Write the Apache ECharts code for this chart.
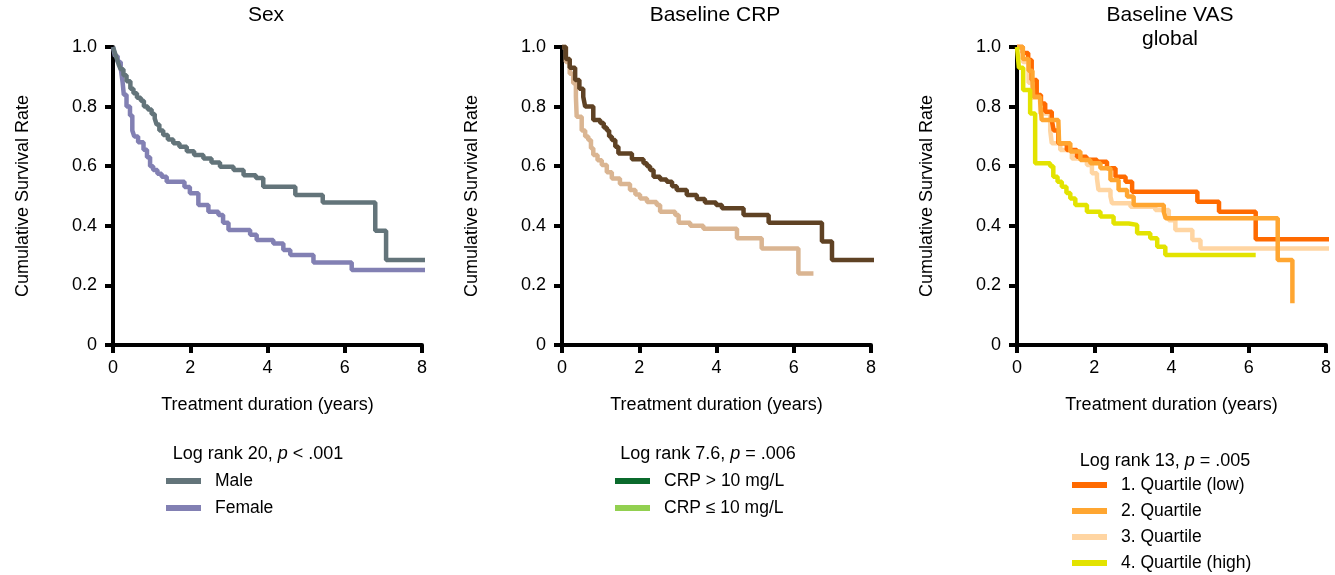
<!DOCTYPE html>
<html><head><meta charset="utf-8">
<script src="https://cdn.jsdelivr.net/npm/echarts@6/dist/echarts.min.js"></script>
<style>html,body{margin:0;padding:0;background:#fff}#c{width:1335px;height:575px}</style>
</head><body><div id="c"></div>
<script>
// ---- Data (time in years, cumulative survival) ----
const xTicks = [0, 2, 4, 6, 8];
const yTicks = [0, 0.2, 0.4, 0.6, 0.8, 1.0];
const panelTitles = ['Sex', 'Baseline CRP', 'Baseline VAS\nglobal'];
const logRankStats = ['20', '7.6', '13'];
const logRankP = ['< .001', '= .006', '= .005'];

const sexNames = ['Male', 'Female'];
const male = [[0,1.0],[0.05,0.98],[0.1,0.96],[0.15,0.94],[0.2,0.925],[0.27,0.905],[0.35,0.885],[0.45,0.86],[0.53,0.845],[0.62,0.83],[0.72,0.82],[0.8,0.8],[0.9,0.79],[1.0,0.775],[1.08,0.76],[1.13,0.74],[1.2,0.72],[1.3,0.705],[1.42,0.69],[1.56,0.677],[1.72,0.665],[1.91,0.65],[2.1,0.638],[2.34,0.626],[2.55,0.612],[2.77,0.598],[3.12,0.587],[3.38,0.57],[3.7,0.56],[3.89,0.531],[4.72,0.503],[5.43,0.478],[6.79,0.383],[7.07,0.285],[8.45,0.285]];
const female = [[0,1.0],[0.05,0.97],[0.12,0.95],[0.2,0.93],[0.25,0.88],[0.28,0.84],[0.35,0.80],[0.44,0.77],[0.5,0.72],[0.55,0.70],[0.65,0.68],[0.79,0.655],[0.88,0.63],[0.96,0.60],[1.04,0.587],[1.15,0.575],[1.26,0.565],[1.39,0.548],[1.85,0.53],[1.99,0.509],[2.21,0.47],[2.47,0.447],[2.73,0.436],[2.85,0.41],[2.99,0.386],[3.55,0.37],[3.72,0.352],[4.15,0.341],[4.41,0.319],[4.59,0.302],[5.19,0.277],[6.18,0.252],[8.23,0.252]];

const crpNames = ['CRP > 10 mg/L', 'CRP \u2264 10 mg/L'];
const crpHigh = [[0,1.0],[0.1,0.96],[0.2,0.93],[0.34,0.889],[0.45,0.86],[0.55,0.833],[0.6,0.80],[0.81,0.755],[0.99,0.745],[1.08,0.73],[1.16,0.72],[1.22,0.70],[1.29,0.688],[1.38,0.665],[1.46,0.643],[1.81,0.623],[2.11,0.61],[2.2,0.6],[2.28,0.587],[2.37,0.565],[2.54,0.555],[2.71,0.548],[2.85,0.533],[2.97,0.52],[3.23,0.503],[3.49,0.49],[3.70,0.478],[3.99,0.47],[4.14,0.459],[4.70,0.436],[5.35,0.41],[6.73,0.347],[6.99,0.285],[8.42,0.285]];
const crpLow = [[0,1.0],[0.1,0.95],[0.2,0.91],[0.29,0.878],[0.36,0.833],[0.38,0.766],[0.51,0.72],[0.6,0.70],[0.68,0.688],[0.75,0.66],[0.81,0.638],[0.92,0.62],[1.03,0.604],[1.16,0.58],[1.29,0.559],[1.5,0.54],[1.76,0.52],[1.9,0.505],[2.02,0.492],[2.2,0.48],[2.45,0.47],[2.54,0.447],[2.93,0.436],[3.02,0.41],[3.32,0.40],[3.66,0.39],[4.53,0.358],[5.17,0.324],[6.12,0.24],[6.51,0.24]];

const vasNames = ['1. Quartile (low)', '2. Quartile', '3. Quartile', '4. Quartile (high)'];
const vasQ1 = [[0,1.0],[0.15,0.98],[0.29,0.956],[0.38,0.889],[0.51,0.839],[0.62,0.81],[0.73,0.783],[0.9,0.755],[0.95,0.72],[1.07,0.677],[1.29,0.654],[1.55,0.632],[1.8,0.622],[2.07,0.615],[2.33,0.593],[2.55,0.565],[2.81,0.548],[2.98,0.514],[4.67,0.481],[5.23,0.447],[6.18,0.355],[8.3,0.355]];
const vasQ2 = [[0,1.0],[0.15,0.96],[0.3,0.92],[0.4,0.889],[0.42,0.833],[0.6,0.816],[0.64,0.755],[1.07,0.75],[1.09,0.677],[1.38,0.649],[1.64,0.621],[1.9,0.61],[2.16,0.593],[2.42,0.554],[2.63,0.52],[2.85,0.498],[3.02,0.47],[3.8,0.447],[3.85,0.425],[6.75,0.285],[7.13,0.14],[7.14,0.14]];
const vasQ3 = [[0,1.0],[0.15,0.95],[0.3,0.88],[0.4,0.83],[0.6,0.777],[0.86,0.72],[0.9,0.677],[1.12,0.654],[1.42,0.626],[1.81,0.604],[1.94,0.576],[2.07,0.559],[2.11,0.52],[2.42,0.498],[2.46,0.476],[2.94,0.464],[3.58,0.453],[3.93,0.419],[4.1,0.386],[4.54,0.352],[4.75,0.324],[8.3,0.324]];
const vasQ4 = [[0,1.0],[0.05,0.93],[0.16,0.856],[0.34,0.777],[0.47,0.61],[0.86,0.6],[0.94,0.565],[1.05,0.548],[1.16,0.531],[1.28,0.51],[1.38,0.492],[1.51,0.47],[1.81,0.447],[2.16,0.431],[2.5,0.408],[2.89,0.403],[3.11,0.375],[3.45,0.358],[3.63,0.33],[3.84,0.302],[6.18,0.302]];

const FONT = 'Liberation Sans, Arial, sans-serif';
const chart = echarts.init(document.getElementById('c'));

const gridLefts = [113, 562, 1017];
const grids = gridLefts.map(l => ({left: l, top: 47, width: 309, height: 298}));

const xAxes = grids.map((g, i) => ({
  type: 'value', gridIndex: i, min: 0, max: 8, interval: 2,
  name: 'Treatment duration (years)', nameLocation: 'middle', nameGap: 51,
  nameTextStyle: {fontFamily: FONT, fontSize: 18, color: '#000'},
  axisLine: {show: true, lineStyle: {color: '#000', width: 4}},
  axisTick: {show: true, length: 8, lineStyle: {color: '#000', width: 4}},
  axisLabel: {fontFamily: FONT, fontSize: 18, color: '#000', margin: 14},
  splitLine: {show: false}
}));
const yAxes = grids.map((g, i) => ({
  type: 'value', gridIndex: i, min: 0, max: 1, interval: 0.2,
  name: 'Cumulative Survival Rate', nameLocation: 'middle', nameGap: 81, nameRotate: 90,
  nameTextStyle: {fontFamily: FONT, fontSize: 18, color: '#000'},
  axisLine: {show: true, lineStyle: {color: '#000', width: 4}},
  axisTick: {show: true, length: 8, lineStyle: {color: '#000', width: 4}},
  axisLabel: {fontFamily: FONT, fontSize: 18, color: '#000', margin: 16,
    formatter: v => v === 0 ? '0' : v.toFixed(1)},
  splitLine: {show: false}
}));

function km(name, data, color, idx, z) {
  return {type: 'line', name: name, data: data, step: 'end', xAxisIndex: idx, yAxisIndex: idx,
    showSymbol: false, symbol: 'none', clip: false, color: color, z: z || 2,
    lineStyle: {color: color, width: 4.5}, animation: false};
}
function legendOnly(name, color) {
  return {type: 'line', name: name, data: [], color: color, xAxisIndex: 1, yAxisIndex: 1,
    lineStyle: {color: color}, animation: false};
}

const series = [
  km(sexNames[1], female, '#8280b3', 0, 2),
  km(sexNames[0], male, '#63747a', 0, 3),
  km('crpLowCurve', crpLow, '#dab592', 1, 2),
  km('crpHighCurve', crpHigh, '#5f4224', 1, 3),
  legendOnly(crpNames[0], '#0a6a2c'),
  legendOnly(crpNames[1], '#92d050'),
  km(vasNames[2], vasQ3, '#ffd5a2', 2, 2),
  km(vasNames[0], vasQ1, '#ff6a00', 2, 3),
  km(vasNames[1], vasQ2, '#ffa631', 2, 4),
  km(vasNames[3], vasQ4, '#e3e300', 2, 5)
];

const titleCenters = [266, 715, 1170];
const titles = panelTitles.map((t, i) => ({
  text: t, left: titleCenters[i], top: 3, textAlign: 'center', padding: 0,
  textStyle: {fontFamily: FONT, fontSize: 21, fontWeight: 'normal', color: '#000', lineHeight: 24}
}));
const headerCenters = [258, 708, 1165];
const headerTops = [445, 445, 452];
logRankStats.forEach((s, i) => {
  titles.push({
    text: 'Log rank ' + s + ', {i|p} ' + logRankP[i], left: headerCenters[i], top: headerTops[i],
    textAlign: 'center', padding: 0,
    textStyle: {fontFamily: FONT, fontSize: 18, fontWeight: 'normal', color: '#000',
      rich: {i: {fontFamily: FONT, fontSize: 18, fontStyle: 'italic', color: '#000'}}}
  });
});

const legendBase = {orient: 'vertical', icon: 'rect', itemWidth: 35, itemHeight: 6, itemGap: 9, padding: 0,
  selectedMode: false, textStyle: {fontFamily: FONT, fontSize: 17.5, color: '#000', padding: [0, 0, 0, 9]}};
const legends = [
  Object.assign({}, legendBase, {data: sexNames, left: 166, top: 472}),
  Object.assign({}, legendBase, {data: crpNames, left: 615, top: 472}),
  Object.assign({}, legendBase, {data: vasNames, left: 1072, top: 476, itemGap: 8})
];

chart.setOption({
  animation: false,
  backgroundColor: '#fff',
  title: titles,
  grid: grids,
  xAxis: xAxes,
  yAxis: yAxes,
  legend: legends,
  series: series
});
</script></body></html>
